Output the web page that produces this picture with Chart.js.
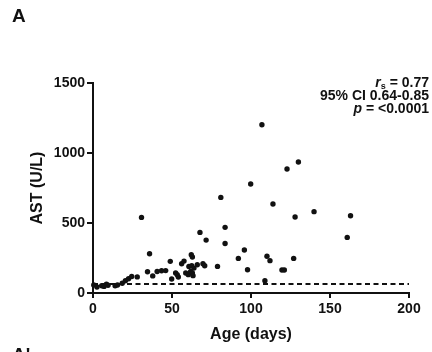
<!DOCTYPE html>
<html>
<head>
<meta charset="utf-8">
<script src="https://cdn.jsdelivr.net/npm/chart.js@4.4.1/dist/chart.umd.min.js"></script>
<style>
  html, body { margin: 0; padding: 0; background: #fff; }
  #wrap { position: relative; width: 432px; height: 352px; overflow: hidden; font-family: "Liberation Sans", Arial, sans-serif; color: #111; }
  #chart { position: absolute; left: 0; top: 0; }
  .panel { position: absolute; left: 12px; font-weight: bold; font-size: 19px; line-height: 19px; }
  #stats { position: absolute; right: 3px; top: 75.6px; text-align: right; font-weight: bold; font-size: 14px; line-height: 13px; }
  #stats .line { height: 13px; white-space: nowrap; }
  #stats .sub { font-size: 9px; position: relative; top: 2px; }
</style>
</head>
<body>
<div id="wrap">
  <canvas id="chart" width="432" height="352"></canvas>
  <div class="panel" style="top:6px">A</div>
  <div id="stats">
    <div class="line"><i>r</i><span class="sub">s</span> = 0.77</div>
    <div class="line">95% CI 0.64-0.85</div>
    <div class="line"><i>p</i> = &lt;0.0001</div>
  </div>
  <div class="panel" style="top:344.5px">A'</div>
</div>
<script>
// Age (days) vs AST (U/L), one entry per animal
const ageDays = [
    0.5, 2.5, 5.5, 7, 8.5, 9.5, 14, 15.5, 18.5, 20.5, 22.5, 24.5, 28,
    30.7, 34.5, 35.8, 37.8, 40.6, 43.4, 46, 48.9, 49.8, 52.3, 53.3, 54,
    56.1, 57.6, 58.7, 60.3, 60.7, 61.8, 62.2, 62.5, 62.9, 62.9, 63.3, 63.9,
    66, 67.7, 69.6, 70.7, 71.6, 78.8, 80.9, 83.6, 83.6, 92, 95.8, 97.8,
    99.8, 106.9, 108.8, 110.1, 112, 113.9, 119.6, 121.1, 122.8, 127, 127.9,
    130, 139.9, 160.9, 163
];
const astValues = [
    58, 43, 52, 47, 62, 55, 52, 57, 70, 88, 102, 118, 115,
    540, 152, 280, 122, 154, 159, 160, 226, 100, 143, 131, 114,
    209, 228, 143, 131, 190, 154, 274, 195, 257, 143, 124, 178,
    202, 433, 209, 195, 378, 190, 683, 469, 354, 247, 307, 166,
    779, 1202, 88, 262, 231, 636, 164, 164, 886, 247, 543,
    936, 581, 397, 552
];

// dashed reference line (upper limit of normal)
const refLineX = [0, 200];
const refLineY = [64, 64];

const xTicks = [0, 50, 100, 150, 200];
const yTicks = [0, 500, 1000, 1500];

const ink = '#111';
const tickFont = { family: '"Liberation Sans", Arial, sans-serif', size: 14, weight: 'bold' };
const titleFont = { family: '"Liberation Sans", Arial, sans-serif', size: 16, weight: 'bold' };

const points = ageDays.map((a, i) => ({ x: a, y: astValues[i] }));
const refLine = refLineX.map((x, i) => ({ x: x, y: refLineY[i] }));

new Chart(document.getElementById('chart'), {
    type: 'scatter',
    data: {
        datasets: [
            {
                data: points,
                backgroundColor: ink,
                borderWidth: 0,
                pointRadius: 2.7,
                clip: false,
                order: 0
            },
            {
                type: 'line',
                data: refLine,
                borderColor: ink,
                borderWidth: 2,
                borderDash: [5, 3.5],
                pointRadius: 0,
                fill: false,
                order: 1
            }
        ]
    },
    options: {
        responsive: false,
        animation: false,
        events: [],
        layout: { padding: { top: 83, right: 23, left: 0, bottom: 0 } },
        plugins: { legend: { display: false }, tooltip: { enabled: false } },
        scales: {
            x: {
                type: 'linear',
                min: xTicks[0],
                max: xTicks[xTicks.length - 1],
                afterFit: s => { s.height = 59; },
                afterBuildTicks: s => { s.ticks = xTicks.map(v => ({ value: v })); },
                border: { display: true, color: ink, width: 2 },
                grid: { drawOnChartArea: false, drawTicks: true, tickLength: 5, color: ink, lineWidth: 2 },
                ticks: { color: ink, font: tickFont, padding: 3, maxRotation: 0, callback: v => String(v) },
                title: { display: true, text: 'Age (days)', color: ink, font: titleFont, padding: { top: 0, bottom: 7.4 } }
            },
            y: {
                type: 'linear',
                min: yTicks[0],
                max: yTicks[yTicks.length - 1],
                afterFit: s => { s.width = 93; },
                afterBuildTicks: s => { s.ticks = yTicks.map(v => ({ value: v })); },
                border: { display: true, color: ink, width: 2 },
                grid: { drawOnChartArea: false, drawTicks: true, tickLength: 6, color: ink, lineWidth: 2 },
                ticks: { color: ink, font: tickFont, padding: 2, callback: v => String(v) },
                title: { display: true, text: 'AST (U/L)', color: ink, font: titleFont, padding: { top: 28.4, bottom: 0 } }
            }
        }
    }
});
</script>
</body>
</html>
